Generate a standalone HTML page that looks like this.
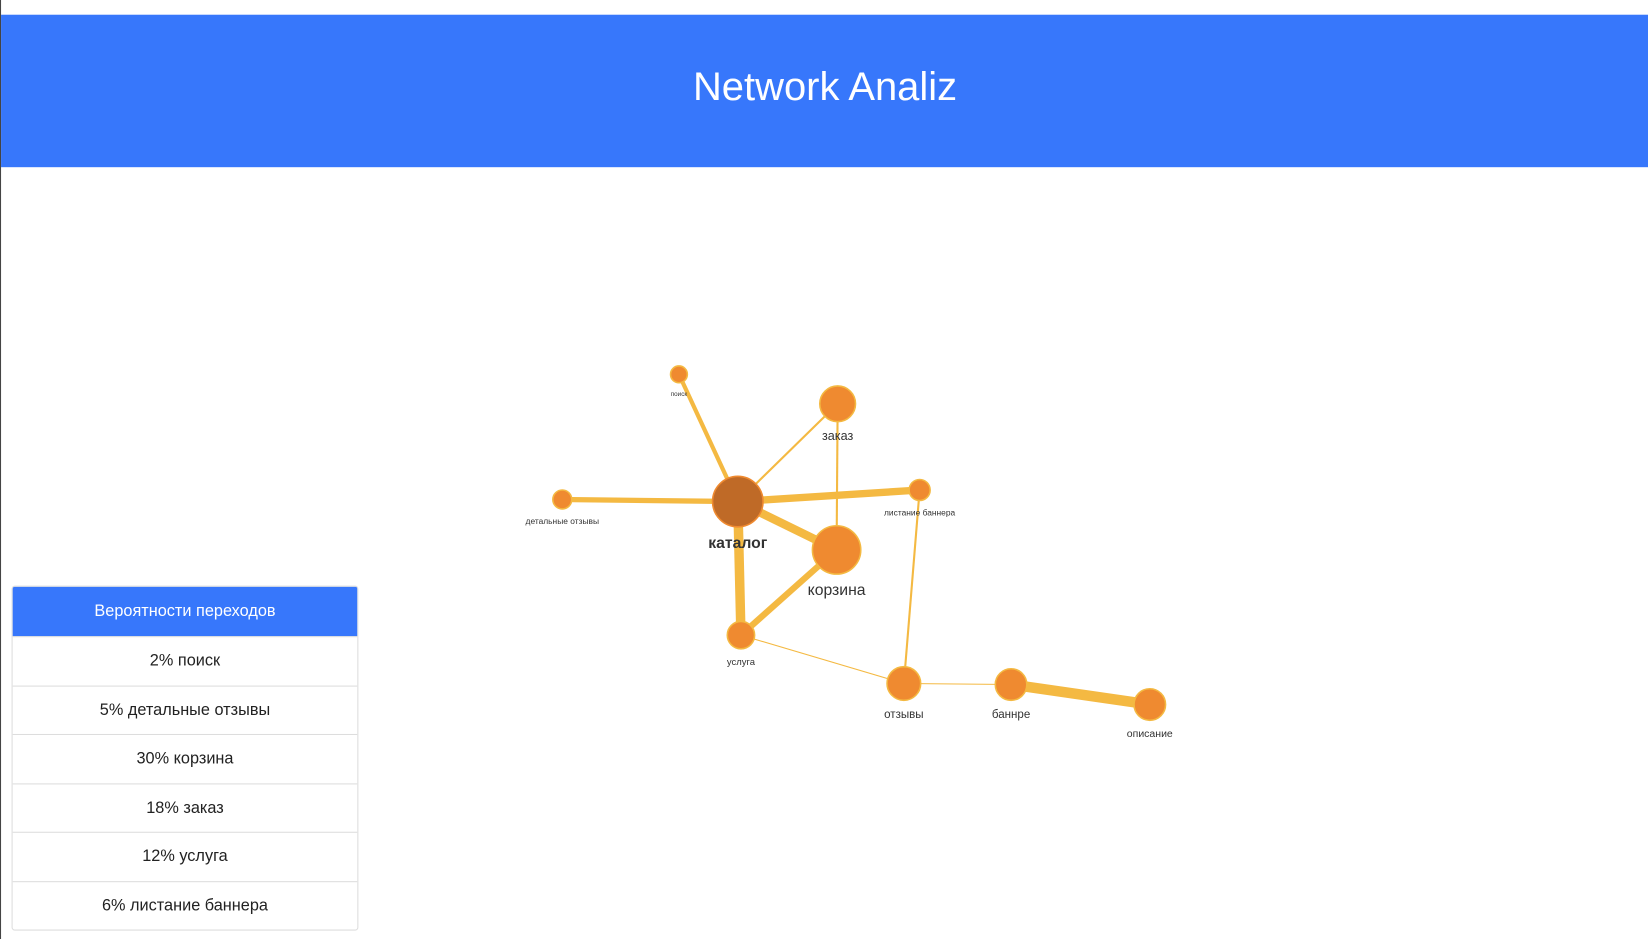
<!DOCTYPE html>
<html><head><meta charset="utf-8"><style>
html,body{margin:0;padding:0;background:#fff;overflow:hidden}
#wrap{width:1568px;height:893px;transform:scale(1.051,1.0515);transform-origin:0 0;position:relative;font-family:"Liberation Sans","DejaVu Sans",sans-serif;border-left:1px solid #444;box-sizing:border-box}
#hdr{position:absolute;left:0;top:14px;width:1568px;height:145px;background:#3777fb;color:#fff;font-size:38px;text-align:center;line-height:138px}
#tbl{position:absolute;left:10px;top:557px;width:328px;border:1px solid #ddd;border-radius:3px;overflow:hidden}
#tbl div{height:45.5px;line-height:45.5px;text-align:center;font-size:15.5px;color:#222;border-top:1px solid #ddd}
#tbl div.h{background:#3777fb;color:#fff;border-top:none;height:47px;line-height:47px}
svg{position:absolute;left:0;top:0}
</style></head><body>
<div id="wrap">
<div id="hdr">Network Analiz</div>
<div id="tbl">
<div class="h">Вероятности переходов</div>
<div>2% поиск</div>
<div>5% детальные отзывы</div>
<div>30% корзина</div>
<div>18% заказ</div>
<div>12% услуга</div>
<div>6% листание баннера</div>
</div>
<svg id="g" width="1568" height="893"></svg>
</div>
<script>
const nodeNames=["поиск","заказ","детальные отзывы","каталог","листание баннера","корзина","услуга","отзывы","баннре","описание"];
const nodeX=[645,796,534,701,874,795,704,859,961,1093];
const nodeY=[356,384,475,477,466,523,604,650,651,670];
const nodeR=[8,17,9,24,10,23,13,16,15,15];
const labelSize=[6,12,8,15,8,15,9,11,11,10];
const edgeFrom=[3,3,3,3,3,3,1,5,4,6,7,8];
const edgeTo=[0,1,2,4,5,6,5,6,7,7,8,9];
const edgeW=[4,2,5,7,8,9,2,6,2,1,1,10];
const svg=document.getElementById('g');const NS='http://www.w3.org/2000/svg';
for(let i=0;i<edgeFrom.length;i++){
const l=document.createElementNS(NS,'line');


const a=edgeFrom[i],b=edgeTo[i];
l.setAttribute('x1',nodeX[a]);l.setAttribute('y1',nodeY[a]);l.setAttribute('x2',nodeX[b]);l.setAttribute('y2',nodeY[b]);
l.setAttribute('stroke','#f4b942');l.setAttribute('stroke-width',edgeW[i]);svg.appendChild(l);}
for(let i=0;i<nodeNames.length;i++){
const c=document.createElementNS(NS,'circle');


c.setAttribute('cx',nodeX[i]);c.setAttribute('cy',nodeY[i]);c.setAttribute('r',nodeR[i]);
c.setAttribute('fill',i==3?'#bf6a27':'#ef8a30');c.setAttribute('stroke',i==3?'#ef8a30':'#f4b942');c.setAttribute('stroke-width',1.5);svg.appendChild(c);
const t=document.createElementNS(NS,'text');


t.setAttribute('x',nodeX[i]);t.setAttribute('y',nodeY[i]+nodeR[i]+labelSize[i]*0.8+8);
t.setAttribute('text-anchor','middle');t.setAttribute('font-size',labelSize[i]);t.setAttribute('fill','#333');
if(i==3)t.setAttribute('font-weight','bold');
t.textContent=nodeNames[i];svg.appendChild(t);}
</script>
</body></html>
